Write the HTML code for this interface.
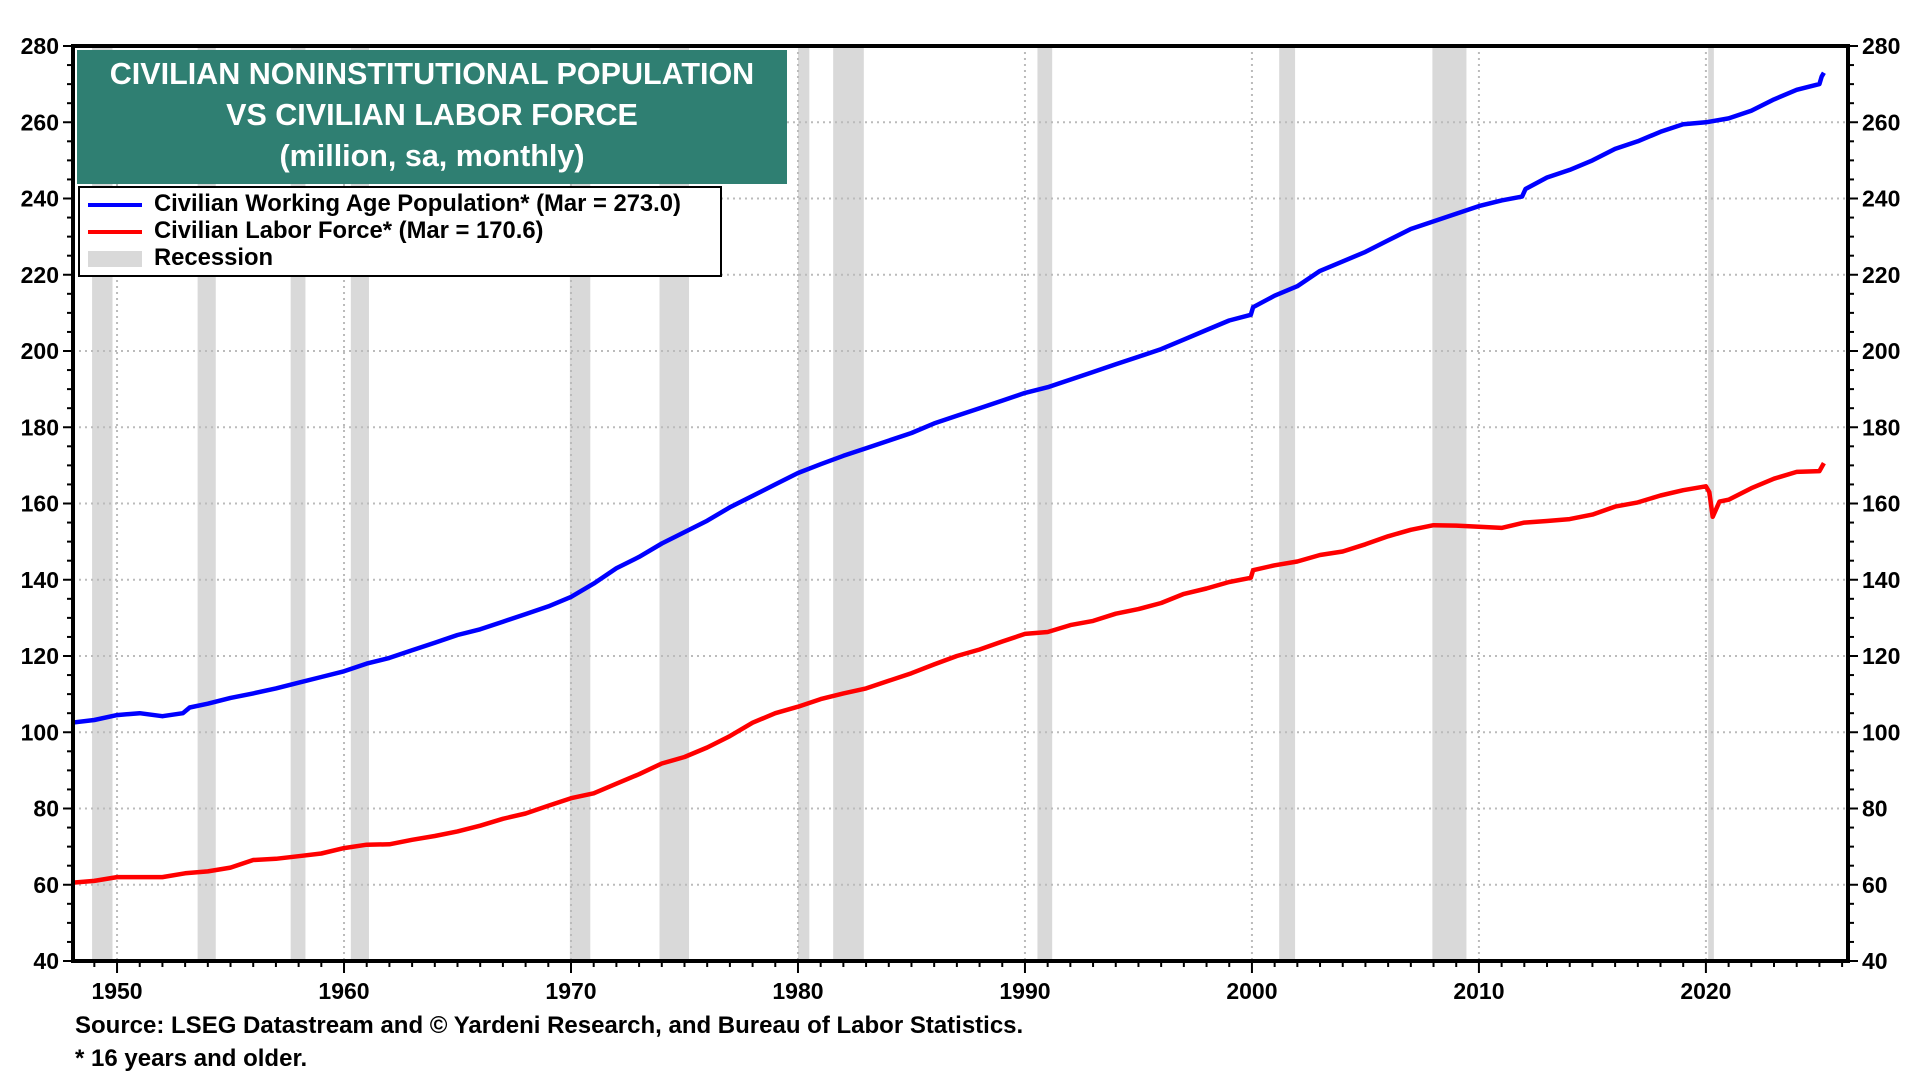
<!DOCTYPE html>
<html><head><meta charset="utf-8"><style>
body{margin:0;background:#fff;width:1920px;height:1080px;overflow:hidden;font-family:"Liberation Sans",Arial,sans-serif}
svg text{font-family:"Liberation Sans",Arial,sans-serif;font-weight:bold}
</style></head><body>
<svg id="c" width="1920" height="1080"></svg>
<script>
const recStart=[1948.9,1953.55,1957.65,1960.3,1969.95,1973.9,1980.0,1981.55,1990.55,2001.2,2007.95,2020.1];
const recEnd=[1949.8,1954.35,1958.3,1961.1,1970.85,1975.2,1980.5,1982.9,1991.2,2001.9,2009.45,2020.35];
const popYears=[1948,1949,1950,1951,1952,1952.9,1953.2,1954,1955,1956,1957,1958,1959,1960,1961,1962,1963,1964,1965,1966,1967,1968,1969,1970,1971,1972,1973,1974,1975,1976,1977,1978,1979,1980,1981,1982,1983,1984,1985,1986,1987,1988,1989,1990,1991,1992,1993,1994,1995,1996,1997,1998,1999,1999.95,2000.05,2001,2002,2003,2004,2005,2006,2007,2008,2009,2010,2011,2011.9,2012.05,2013,2014,2015,2016,2017,2018,2019,2020,2021,2022,2023,2024,2025,2025.1,2025.2];
const popVals=[102.5,103.2,104.5,105,104.2,105,106.5,107.5,109,110.2,111.5,113,114.5,116,118,119.5,121.5,123.5,125.5,127,129,131,133,135.5,139,143,146,149.5,152.5,155.5,159,162,165,168,170.3,172.5,174.5,176.5,178.5,181,183,185,187,189,190.5,192.5,194.5,196.5,198.5,200.5,203,205.5,208,209.5,211.5,214.5,217,221,223.5,226,229,232,234,236,238,239.5,240.5,242.5,245.5,247.5,250,253,255,257.5,259.5,260,261,263,266,268.5,270,272,273];
const lfYears=[1948,1949,1950,1951,1952,1953,1954,1955,1956,1957,1958,1959,1960,1961,1962,1963,1964,1965,1966,1967,1968,1969,1970,1971,1972,1973,1974,1975,1976,1977,1978,1979,1980,1981,1982,1983,1984,1985,1986,1987,1988,1989,1990,1991,1992,1993,1994,1995,1996,1997,1998,1999,1999.95,2000.05,2001,2002,2003,2004,2005,2006,2007,2008,2009,2010,2011,2012,2013,2014,2015,2016,2017,2018,2019,2020.0,2020.15,2020.3,2020.6,2021,2022,2023,2024,2025,2025.2];
const lfVals=[60.5,61,62,62,62,63,63.5,64.5,66.5,66.8,67.5,68.2,69.6,70.5,70.6,71.8,72.8,74,75.5,77.3,78.7,80.7,82.7,84,86.5,89,91.8,93.5,96,99,102.5,105,106.7,108.7,110.2,111.5,113.5,115.5,117.8,120,121.7,123.8,125.8,126.3,128.1,129.2,131.1,132.3,133.9,136.3,137.7,139.4,140.5,142.5,143.8,144.8,146.5,147.4,149.3,151.4,153.1,154.3,154.2,153.9,153.6,155,155.4,155.9,157.1,159.2,160.3,162.1,163.5,164.5,163,156.5,160.5,161,164,166.5,168.3,168.5,170.6];
const yTicks=[40,60,80,100,120,140,160,180,200,220,240,260,280];
const xTicks=[1950,1960,1970,1980,1990,2000,2010,2020];

const L=73,R=1848,T=46,B=961;
const x0=1948.06,x1=2026.26;
const X=y=>L+(y-x0)/(x1-x0)*(R-L);
const Y=v=>B-(v-40)/240*(B-T);
const svg=document.getElementById('c');
const NS='http://www.w3.org/2000/svg';
function mk(tag,at,parent){const e=document.createElementNS(NS,tag);for(const k in at)e.setAttribute(k,at[k]);(parent||svg).appendChild(e);return e;}

for(let i=0;i<recStart.length;i++){
  const r=mk('rect',{x:X(recStart[i]),y:T,width:X(recEnd[i])-X(recStart[i]),height:B-T,fill:'#d9d9d9'});
  
  
}
for(const t of yTicks){ if(t==40||t==280)continue;
  const g=mk('line',{x1:L,x2:R,y1:Y(t),y2:Y(t),stroke:'#bbb','stroke-width':2,'stroke-dasharray':'2,4'});
  
  
}
for(const t of xTicks){
  const g=mk('line',{x1:X(t),x2:X(t),y1:T,y2:B,stroke:'#bbb','stroke-width':2,'stroke-dasharray':'2,4'});
  
  
}
function path(xs,vs,col,name){
  let d='';for(let i=0;i<xs.length;i++)d+=(i?'L':'M')+X(xs[i]).toFixed(1)+','+Y(vs[i]).toFixed(1);
  const p=mk('path',{d:d,fill:'none',stroke:col,'stroke-width':4.5,'stroke-linejoin':'round'});
  
  
}
path(lfYears,lfVals,'#ff0000','labor-force-line');
path(popYears,popVals,'#0000ff','population-line');

const fr=mk('rect',{x:L,y:T,width:R-L,height:B-T,fill:'none',stroke:'#000','stroke-width':4});


for(let v=40;v<=280;v+=5){
  const len=(v%20==0)?10:6;
  mk('line',{x1:L-len,x2:L,y1:Y(v),y2:Y(v),stroke:'#000','stroke-width':2});
  mk('line',{x1:R,x2:R+len,y1:Y(v),y2:Y(v),stroke:'#000','stroke-width':2});
}
for(let y=1949;y<=2026;y++){
  const len=(y%10==0)?12:6;
  mk('line',{x1:X(y),x2:X(y),y1:B,y2:B+len,stroke:'#000','stroke-width':2});
}
for(const t of yTicks){
  const a=mk('text',{x:L-14,y:Y(t)+8,'text-anchor':'end','font-size':23});a.textContent=t;
  
  
  const b=mk('text',{x:R+14,y:Y(t)+8,'font-size':23});b.textContent=t;
  
  
}
for(const t of xTicks){
  const a=mk('text',{x:X(t),y:B+38,'text-anchor':'middle','font-size':23});a.textContent=t;
  
  
}
</script>
<div style="position:absolute;left:77px;top:50px;width:710px;height:134px;background:#2f7f72;color:#fff;font-weight:bold;font-size:30.5px;text-align:center;line-height:41px;padding-top:4px;box-sizing:border-box">CIVILIAN NONINSTITUTIONAL POPULATION<br>VS CIVILIAN LABOR FORCE<br>(million, sa, monthly)</div>
<div style="position:absolute;left:78px;top:186px;width:644px;height:91px;background:#fff;border:2px solid #000;box-sizing:border-box;font-weight:bold;font-size:23.8px;line-height:27px;padding-top:2px">
<div><span style="display:inline-block;width:54px;height:4px;background:#00f;vertical-align:middle;margin:0 12px 0 8px"></span>Civilian Working Age Population* (Mar = 273.0)</div>
<div><span style="display:inline-block;width:54px;height:4px;background:#f00;vertical-align:middle;margin:0 12px 0 8px"></span>Civilian Labor Force* (Mar = 170.6)</div>
<div><span style="display:inline-block;width:54px;height:16px;background:#d9d9d9;vertical-align:middle;margin:0 12px 0 8px"></span>Recession</div>
</div>
<div style="position:absolute;left:75px;top:1012px;font-weight:bold;font-size:24px">Source: LSEG Datastream and © Yardeni Research, and Bureau of Labor Statistics.</div>
<div style="position:absolute;left:75px;top:1045px;font-weight:bold;font-size:24px">* 16 years and older.</div>
</body></html>
